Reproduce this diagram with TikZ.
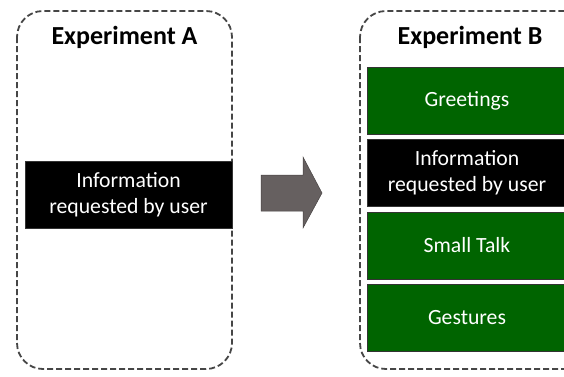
\documentclass[tikz,border=0pt]{standalone}
\usepackage{fontspec}
\setmainfont{Carlito}
\definecolor{boxgreen}{RGB}{0,100,0}
\definecolor{arrowgray}{RGB}{102,96,96}
\definecolor{dashgray}{RGB}{70,70,70}
\tikzset{
  container/.style={draw=dashgray, line width=1.8pt, dash pattern=on 6pt off 3pt, rounded corners=26pt},
  title/.style={font=\bfseries\fontsize{26}{30}\selectfont, text=black},
  stepbox/.style={minimum width=200pt, minimum height=67pt, inner sep=0pt, align=center,
    text=white, font=\fontsize{21.7}{26}\selectfont, draw=black!80, line width=0.6pt},
  greenbox/.style={stepbox, fill=boxgreen},
  blackbox/.style={stepbox, fill=black}
}
\begin{document}
\begin{tikzpicture}[x=1pt,y=-1pt]
\useasboundingbox (0,0) rectangle (564,376);
\clip (0,0) rectangle (564,376);
% containers
\draw[container] (17,11) rectangle (232,369);
\draw[container] (360,11) rectangle (620,369);
\node[title] (titleA) at (124.5,37) {Experiment A};
\node[title] (titleB) at (470,37) {Experiment B};
% experiment A
\node[blackbox, minimum width=207pt] (infoA) at (128.5,194.5) {Information\\requested by user};
% experiment B
\node[greenbox] (greet) at (467,100.5) {Greetings};
\node[blackbox] (infoB) at (467,173) {Information\\requested by user};
\node[greenbox] (small) at (467,245.5) {Small Talk};
\node[greenbox] (gest) at (467,317.5) {Gestures};
% block arrow between the two experiments
\draw[fill=arrowgray, draw=arrowgray!70!black, line width=0.5pt]
  (261,175) -- (303,175) -- (303,157) -- (322,193) -- (303,228) -- (303,211) -- (261,211) -- cycle;
\end{tikzpicture}
\end{document}
